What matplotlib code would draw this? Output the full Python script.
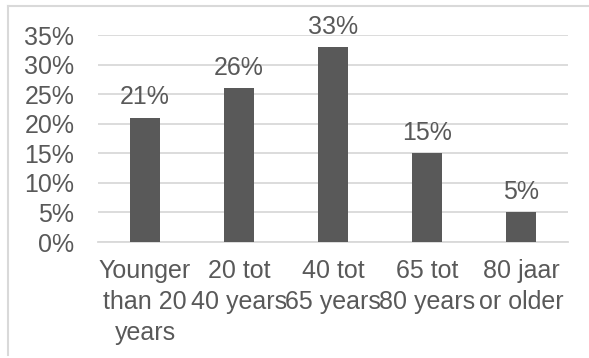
import matplotlib.pyplot as plt

categories = ['Younger\nthan 20\nyears', '20 tot\n40 years', '40 tot\n65 years',
              '65 tot\n80 years', '80 jaar\nor older']
shares = [21, 26, 33, 15, 5]
y_ticks = [0, 5, 10, 15, 20, 25, 30, 35]

text_color = '#595959'
bar_color = '#595959'
grid_color = '#d9d9d9'


def main():
    plt.rcParams['font.family'] = ['Liberation Sans', 'DejaVu Sans']

    fig = plt.figure(figsize=(5.89, 3.58), dpi=100)
    ax = fig.add_axes([0.1664, 0.324, 0.7979, 0.5782])

    x = range(len(categories))
    bars = ax.bar(x, shares, width=0.32, color=bar_color, zorder=3)

    for rect, val in zip(bars, shares):
        ax.annotate(f'{val}%', (rect.get_x() + rect.get_width() / 2, val),
                    xytext=(0, 6), textcoords='offset points',
                    ha='center', va='bottom', fontsize=18, color=text_color)

    ax.set_xlim(-0.5, len(categories) - 0.5)
    ax.set_ylim(0, 35)
    ax.set_yticks(y_ticks)
    ax.set_yticklabels([f'{t}%' for t in y_ticks])
    ax.set_xticks(list(x))
    ax.set_xticklabels(categories, linespacing=1.38)

    ax.tick_params(axis='y', length=0, pad=17, labelsize=18, labelcolor=text_color)
    ax.tick_params(axis='x', length=0, pad=12, labelsize=18, labelcolor=text_color)

    ax.grid(axis='y', color=grid_color, linewidth=1.3, zorder=0)
    for side in ['top', 'right', 'left']:
        ax.spines[side].set_visible(False)
    ax.spines['bottom'].set_color(grid_color)
    ax.spines['bottom'].set_linewidth(1.3)

    # light frame on the top and left edges of the chart area
    fig.add_artist(plt.Line2D([8 / 589, 8 / 589], [3 / 358, 1 - 6 / 358],
                              color=grid_color, linewidth=1.5, transform=fig.transFigure))
    fig.add_artist(plt.Line2D([8 / 589, 1.0], [1 - 6 / 358, 1 - 6 / 358],
                              color=grid_color, linewidth=1.5, transform=fig.transFigure))

    fig.savefig('out.png', dpi=100)


if __name__ == '__main__':
    main()
